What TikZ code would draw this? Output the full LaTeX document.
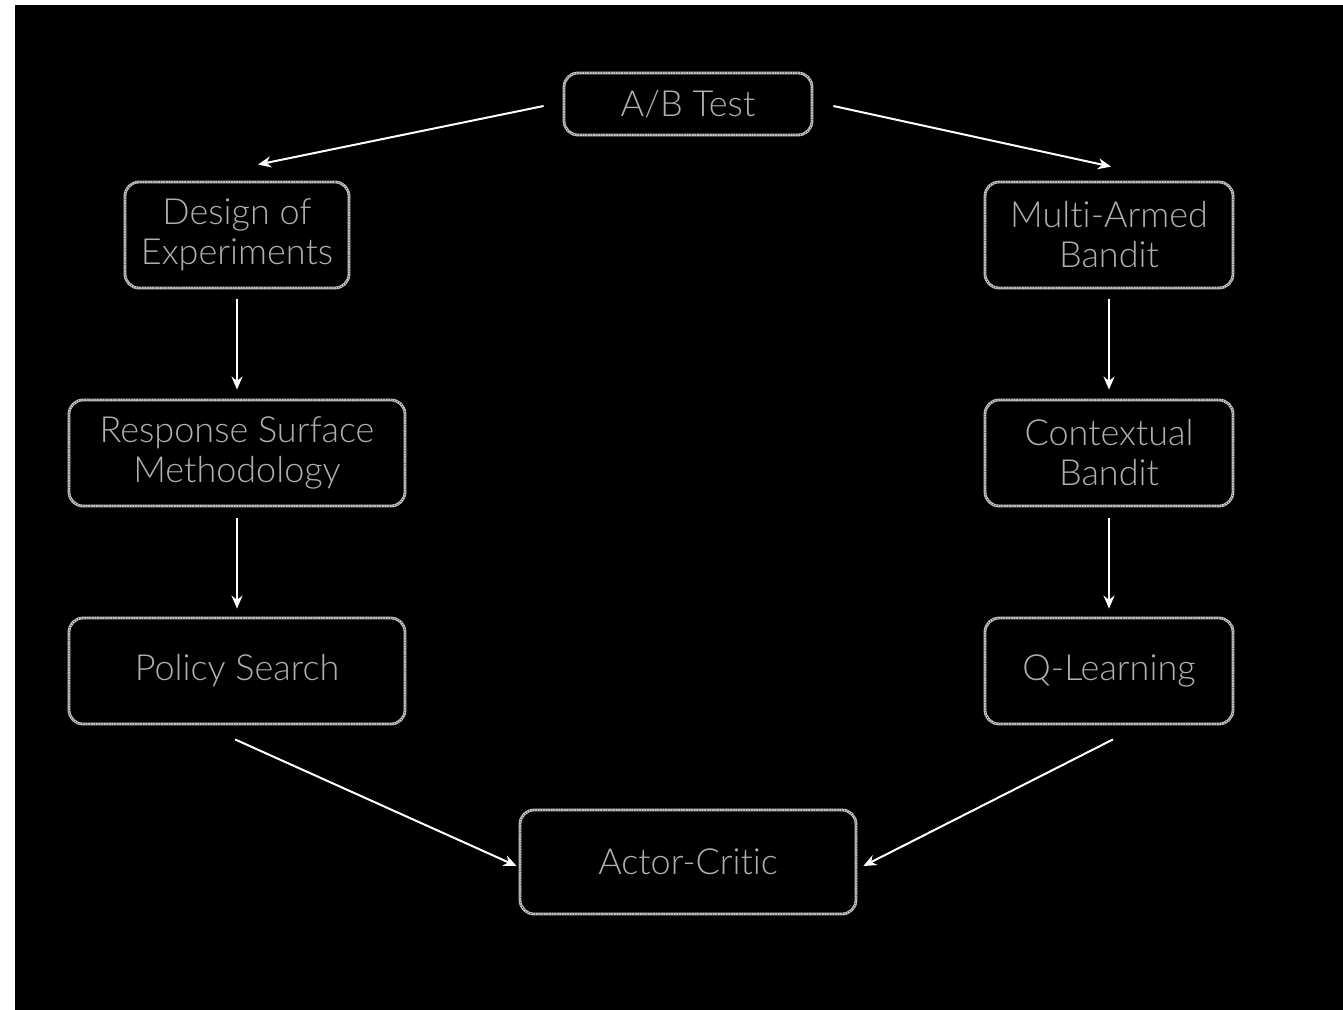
\documentclass[tikz,border=0pt]{standalone}
\usepackage{fontspec}
\IfFontExistsTF{Lato Light}{\setmainfont{Lato Light}[Ligatures={NoCommon,NoContextual}]}{\setmainfont{Liberation Sans}}
\usetikzlibrary{arrows.meta}
\definecolor{boxgray}{RGB}{195,195,195}
\definecolor{txtgray}{RGB}{175,175,175}
\tikzset{
  box/.style={draw=boxgray, line width=1.4pt, rounded corners=7pt, text=txtgray,
    align=center, font=\fontsize{18}{20}\selectfont, inner sep=0pt,
    postaction={draw=black!70!boxgray, line width=0.5pt, dash pattern=on 0.4pt off 0.9pt}},
  arr/.style={draw=white, line width=1pt, -{Stealth[length=6.5pt,width=5.5pt]}}
}
\begin{document}
\begin{tikzpicture}[x=0.5pt,y=-0.5pt]
\fill[white] (0,0) rectangle (1343,1010);
\fill[black] (15,5) rectangle (1343,1010);
\useasboundingbox (0,0) rectangle (1343,1010);

\node[box, minimum width=124pt, minimum height=31pt] (ab) at (688,104) {A/B Test};
\node[box, minimum width=112pt, minimum height=53pt] (doe) at (237,235) {Design of\\Experiments};
\node[box, minimum width=124pt, minimum height=53pt] (mab) at (1109,235) {Multi-Armed\\Bandit};
\node[box, minimum width=168pt, minimum height=53pt] (rsm) at (237,453) {Response Surface\\Methodology};
\node[box, minimum width=124pt, minimum height=53pt] (cb) at (1109,453) {Contextual\\Bandit};
\node[box, minimum width=168pt, minimum height=53pt] (ps) at (237,671) {Policy Search};
\node[box, minimum width=124pt, minimum height=53pt] (ql) at (1109,671) {Q-Learning};
\node[box, minimum width=168pt, minimum height=52pt] (ac) at (688,862) {Actor-Critic};

\draw[arr] ([shift={(-19,2)}]ab.west) -- ([shift={(21,-16)}]doe.north);
\draw[arr] ([shift={(20,2)}]ab.east) -- ([shift={(2,-14)}]mab.north);
\draw[arr, shorten <=5pt, shorten >=4.5pt] (doe.south) -- (rsm.north);
\draw[arr, shorten <=5.5pt, shorten >=4pt] (rsm.south) -- (ps.north);
\draw[arr, shorten <=5pt, shorten >=4.5pt] (mab.south) -- (cb.north);
\draw[arr, shorten <=5.5pt, shorten >=4pt] (cb.south) -- (ql.north);
\draw[arr] ([shift={(-2,14)}]ps.south) -- ([shift={(-2,4)}]ac.west);
\draw[arr] ([shift={(4,14)}]ql.south) -- ([shift={(6,4)}]ac.east);
\end{tikzpicture}
\end{document}
